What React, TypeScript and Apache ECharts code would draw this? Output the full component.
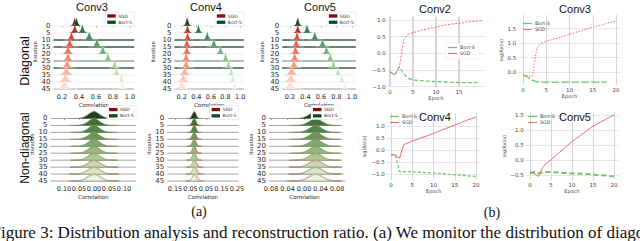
import React, { useEffect, useRef } from "react";
import * as echarts from "echarts";

// ---------- (a) ridge data ----------
const iterations = [0, 5, 10, 15, 20, 25, 30, 35, 40, 45];

// Diagonal, peak location (correlation) and spread per iteration
const diag3SgdMean = [0.35, 0.35, 0.31, 0.29, 0.27, 0.27, 0.26, 0.25, 0.24, 0.23];
const diag3SgdSpread = [0.02, 0.022, 0.022, 0.024, 0.025, 0.026, 0.028, 0.032, 0.035, 0.038];
const diag3BortMean = [0.37, 0.44, 0.52, 0.61, 0.68, 0.74, 0.82, 0.84, 0.9, 0.91];
const diag3BortSpread = [0.02, 0.022, 0.024, 0.024, 0.022, 0.02, 0.018, 0.016, 0.015, 0.014];

const diag4SgdMean = [0.27, 0.28, 0.28, 0.27, 0.27, 0.26, 0.26, 0.24, 0.22, 0.2];
const diag4SgdSpread = [0.02, 0.022, 0.022, 0.024, 0.025, 0.026, 0.028, 0.032, 0.035, 0.038];
const diag4BortMean = [0.28, 0.43, 0.55, 0.64, 0.73, 0.8, 0.84, 0.88, 0.9, 0.92];
const diag4BortSpread = [0.02, 0.022, 0.024, 0.024, 0.022, 0.02, 0.018, 0.016, 0.015, 0.014];

const diag5SgdMean = [0.3, 0.3, 0.29, 0.28, 0.27, 0.26, 0.25, 0.22, 0.21, 0.2];
const diag5SgdSpread = [0.02, 0.022, 0.022, 0.024, 0.025, 0.026, 0.028, 0.032, 0.035, 0.038];
const diag5BortMean = [0.3, 0.42, 0.52, 0.62, 0.67, 0.72, 0.76, 0.82, 0.87, 0.91];
const diag5BortSpread = [0.02, 0.022, 0.024, 0.024, 0.022, 0.02, 0.018, 0.016, 0.015, 0.014];

// Non-diagonal
const non3SgdMean = [0, 0, 0, 0, 0, 0, 0, 0, 0, 0];
const non3SgdSpread = [0.016, 0.016, 0.017, 0.017, 0.018, 0.018, 0.019, 0.02, 0.021, 0.022];
const non3BortMean = [0, 0, 0, 0, 0, 0, 0, 0, 0, 0];
const non3BortSpread = [0.02, 0.02, 0.02, 0.02, 0.02, 0.02, 0.02, 0.02, 0.02, 0.02];

const non4SgdMean = [-0.025, -0.025, -0.025, -0.025, -0.025, -0.025, -0.025, -0.022, -0.02, -0.02];
const non4SgdSpread = [0.011, 0.011, 0.011, 0.012, 0.012, 0.012, 0.013, 0.014, 0.015, 0.016];
const non4BortMean = [-0.027, -0.027, -0.027, -0.027, -0.027, -0.027, -0.027, -0.027, -0.027, -0.027];
const non4BortSpread = [0.012, 0.012, 0.012, 0.012, 0.012, 0.012, 0.012, 0.012, 0.012, 0.012];

const non5SgdMean = [0.028, 0.028, 0.028, 0.028, 0.028, 0.028, 0.028, 0.028, 0.028, 0.028];
const non5SgdSpread = [0.013, 0.013, 0.013, 0.014, 0.014, 0.014, 0.015, 0.016, 0.017, 0.018];
const non5BortMean = [0.028, 0.028, 0.028, 0.028, 0.028, 0.028, 0.028, 0.028, 0.028, 0.028];
const non5BortSpread = [0.016, 0.016, 0.016, 0.016, 0.016, 0.016, 0.016, 0.016, 0.016, 0.016];

const diagTicks = [0.2, 0.4, 0.6, 0.8, 1.0];
const non3Ticks = [-0.1, -0.05, 0, 0.05, 0.1];
const non4Ticks = [-0.15, -0.05, 0.05, 0.15, 0.25];
const non5Ticks = [-0.08, -0.04, 0, 0.04, 0.08];

// ---------- (b) log ratio data ----------
const epochs = [0, 1, 2, 3, 4, 5, 6, 7, 8, 9, 10, 11, 12, 13, 14, 15, 16, 17, 18, 19, 20];
const conv2Sgd = [-0.55, -0.65, -0.45, 0.42, 0.58, 0.62, 0.66, 0.7, 0.73, 0.76, 0.79, 0.82, 0.85, 0.87, 0.89, 0.9, 0.92, 0.94, 0.96, 0.97, 0.98];
const conv2Bort = [-0.55, -0.65, -0.4, -0.62, -0.75, -0.8, -0.81, -0.82, -0.83, -0.84, -0.85, -0.85, -0.86, -0.86, -0.87, -0.88, -0.88, -0.88, -0.88, -0.88];
const conv3Sgd = [-0.1, -0.12, -0.15, 0.85, 1.0, 1.07, 1.11, 1.15, 1.2, 1.25, 1.3, 1.35, 1.4, 1.45, 1.5, 1.55, 1.59, 1.63, 1.68, 1.72, 1.76];
const conv3Bort = [-0.1, -0.18, -0.28, -0.34, -0.35, -0.35, -0.35, -0.35, -0.35, -0.35, -0.35, -0.35, -0.35, -0.35, -0.35, -0.35, -0.35, -0.35, -0.35];
const conv4Sgd = [-0.2, -0.2, -0.35, 0.22, 0.3, 0.37, 0.43, 0.5, 0.56, 0.62, 0.69, 0.76, 0.83, 0.9, 0.97, 1.04, 1.1, 1.18, 1.25, 1.31, 1.37];
const conv4Bort = [-0.2, -0.2, -0.9, -0.9, -0.9, -0.91, -0.92, -0.93, -0.94, -0.95, -0.96, -0.97, -0.98, -1.0, -1.02, -1.03, -1.05, -1.06, -1.08, -1.09, -1.1];
const conv5Sgd = [-0.43, -0.45, -0.55, -0.25, -0.1, 0.0, 0.13, 0.25, 0.37, 0.5, 0.61, 0.72, 0.82, 0.92, 1.03, 1.13, 1.2, 1.28, 1.35, 1.43, 1.5];
const conv5Bort = [-0.43, -0.4, -0.45, -0.42, -0.4, -0.4, -0.41, -0.42, -0.43, -0.44, -0.45, -0.45, -0.46, -0.46, -0.47, -0.48, -0.5, -0.51, -0.52, -0.53, -0.55];

// ---------- styles ----------
const sgdShades = ["#7f0d0d", "#b52a22", "#d9412f", "#ea5a43", "#f26e56", "#f5826b", "#f89880", "#fbb3a0", "#fcc8ba", "#fde0d8"];
const bortShades = ["#0d4a1f", "#2a7d3f", "#3b9150", "#4fa35e", "#68b46f", "#84c482", "#9fd298", "#bbe0b2", "#d2eccb", "#e6f5e1"];
const diagBaseColors = ["#e4e4e4", "#e4e4e4", "#3b5a44", "#3b5a44", "#e4e4e4", "#8fa898", "#3b5a44", "#e4e4e4", "#e4e4e4", "#bdbdbd"];
const RED = "#f26b6b";
const GREEN = "#6cc46c";
const minus = (s: string) => s.replace("-", "\u2212");

type Ridge = {
  grid: { left: number; top: number; width: number; height: number };
  xMin: number; xMax: number; ticks: number[];
  fmt: (v: number) => string;
  sgdMean: number[]; sgdSpread: number[]; bortMean: number[]; bortSpread: number[];
  diag: boolean; iterGap: number; corrGap: number;
};

const ridges: Ridge[] = [
  { grid: { left: 53.5, top: 12, width: 80.75, height: 79.8 }, xMin: 0.1, xMax: 1.05, ticks: diagTicks, fmt: (v) => v.toFixed(1), sgdMean: diag3SgdMean, sgdSpread: diag3SgdSpread, bortMean: diag3BortMean, bortSpread: diag3BortSpread, diag: true, iterGap: 13, corrGap: 6.5 },
  { grid: { left: 174.4, top: 12, width: 69.4, height: 79.8 }, xMin: 0.1, xMax: 1.05, ticks: diagTicks, fmt: (v) => v.toFixed(1), sgdMean: diag4SgdMean, sgdSpread: diag4SgdSpread, bortMean: diag4BortMean, bortSpread: diag4BortSpread, diag: true, iterGap: 19, corrGap: 6.5 },
  { grid: { left: 282.25, top: 12, width: 73.6, height: 79.8 }, xMin: 0.1, xMax: 1.05, ticks: diagTicks, fmt: (v) => v.toFixed(1), sgdMean: diag5SgdMean, sgdSpread: diag5SgdSpread, bortMean: diag5BortMean, bortSpread: diag5BortSpread, diag: true, iterGap: 18, corrGap: 6.5 },
  { grid: { left: 50.5, top: 104.6, width: 85.5, height: 79.2 }, xMin: -0.145, xMax: 0.14, ticks: non3Ticks, fmt: (v) => Math.abs(v).toFixed(2), sgdMean: non3SgdMean, sgdSpread: non3SgdSpread, bortMean: non3BortMean, bortSpread: non3BortSpread, diag: false, iterGap: 10, corrGap: 9 },
  { grid: { left: 167.25, top: 104.6, width: 71.3, height: 79.2 }, xMin: -0.2, xMax: 0.26, ticks: non4Ticks, fmt: (v) => Math.abs(v).toFixed(2), sgdMean: non4SgdMean, sgdSpread: non4SgdSpread, bortMean: non4BortMean, bortSpread: non4BortSpread, diag: false, iterGap: 12, corrGap: 9 },
  { grid: { left: 269, top: 104.6, width: 71, height: 79.2 }, xMin: -0.085, xMax: 0.087, ticks: non5Ticks, fmt: (v) => Math.abs(v).toFixed(2), sgdMean: non5SgdMean, sgdSpread: non5SgdSpread, bortMean: non5BortMean, bortSpread: non5BortSpread, diag: false, iterGap: 6, corrGap: 9 },
];

type LinePanel = {
  grid: { left: number; top: number; width: number; height: number };
  xMin: number; xMax: number; xTicks: number[];
  yMin: number; yMax: number; yTicks: number[];
  sgd: number[]; bort: number[];
  sgdType: any; bortType: any; bortWidth: number;
  showName: boolean; vWidth: number;
};

const linePanels: LinePanel[] = [
  { grid: { left: 387.7, top: 16.7, width: 96.6, height: 70 }, xMin: -0.5, xMax: 20.5, xTicks: [0, 5, 10, 15], yMin: -1.0, yMax: 1.1, yTicks: [-1, -0.5, 0, 0.5, 1], sgd: conv2Sgd, bort: conv2Bort, sgdType: [2, 1.5], bortType: [4, 2], bortWidth: 1.2, showName: false, vWidth: 2 },
  { grid: { left: 518.35, top: 15, width: 102.3, height: 70 }, xMin: -1, xMax: 21, xTicks: [0, 5, 10, 15, 20], yMin: -0.45, yMax: 1.97, yTicks: [0, 0.5, 1.0, 1.5], sgd: conv3Sgd, bort: conv3Bort, sgdType: [1.5, 1.5], bortType: [8, 2], bortWidth: 1.3, showName: true, vWidth: 1 },
  { grid: { left: 386.75, top: 113, width: 93.5, height: 67 }, xMin: -1, xMax: 21, xTicks: [0, 5, 10, 15, 20], yMin: -1.25, yMax: 1.54, yTicks: [-1, -0.5, 0, 0.5, 1.0], sgd: conv4Sgd, bort: conv4Bort, sgdType: "solid", bortType: [3, 2], bortWidth: 1.2, showName: true, vWidth: 1 },
  { grid: { left: 525.8, top: 112, width: 92.4, height: 68 }, xMin: -1, xMax: 21, xTicks: [0, 5, 10, 15, 20], yMin: -0.667, yMax: 1.6, yTicks: [-0.5, 0, 0.5, 1.0, 1.5], sgd: conv5Sgd, bort: conv5Bort, sgdType: "solid", bortType: [5, 3], bortWidth: 2, showName: true, vWidth: 1 },
];

function makeRidgeRender(diag: boolean) {
  const H = diag ? 6 : 4.6;
  return (params: any, api: any) => {
    const iter = api.value(0);
    const mean = api.value(1);
    const spread = api.value(2);
    const kind = api.value(3);
    const row = api.value(4);
    const cs = params.coordSys;
    const children: any[] = [];
    if (kind === 0) {
      const yb = api.coord([0, iter])[1];
      children.push({
        type: "line",
        shape: { x1: cs.x, y1: yb, x2: cs.x + cs.width, y2: yb },
        style: { stroke: diag ? diagBaseColors[row] : "#8d8d8d", lineWidth: diag ? (diagBaseColors[row] === "#e4e4e4" ? 0.6 : 1.3) : 0.8 },
      });
    }
    const pts: number[][] = [];
    const N = 60;
    const h = kind === 0 && !diag ? H * 1.12 : H;
    for (let k = 0; k <= N; k++) {
      const z = -4 + (8 * k) / N;
      const f = diag ? Math.exp(-Math.pow(Math.abs(z), 1.3)) : Math.exp(-0.5 * z * z);
      pts.push(api.coord([mean + z * spread, iter - h * f]));
    }
    const fill = kind === 0 ? sgdShades[row] : bortShades[row];
    const stroke = kind === 0 ? (diag ? "#ffffff" : "#e07a6a") : diag ? "#ffffff" : "#5f8f5f";
    children.push({
      type: "polygon",
      shape: { points: pts },
      style: {
        fill,
        stroke,
        lineWidth: diag ? 0.4 : 0.5,
        lineDash: diag ? [1, 1] : null,
        opacity: !diag && kind === 1 ? 0.88 : 1,
      },
    });
    return { type: "group", children };
  };
}

function buildOption() {
  const grid: any[] = [];
  const xAxis: any[] = [];
  const yAxis: any[] = [];
  const series: any[] = [];
  const graphic: any[] = [];
  const small = { fontFamily: "DejaVu Sans", color: "#262626" };

  ridges.forEach((p, gi) => {
    grid.push({ ...p.grid });
    xAxis.push({
      type: "value", gridIndex: gi, min: p.xMin, max: p.xMax,
      axisLine: { show: false },
      axisTick: { show: true, length: 1.5, customValues: p.ticks, lineStyle: { color: "#444", width: 0.5 } },
      axisLabel: { customValues: p.ticks, formatter: (v: number) => p.fmt(v), fontSize: 6.5, margin: 2, ...small },
      splitLine: { show: false },
      name: "Correlation", nameLocation: "middle", nameGap: p.corrGap,
      nameTextStyle: { fontSize: 5.5, ...small },
    });
    yAxis.push({
      type: "value", gridIndex: gi, inverse: true, min: -10, max: 47,
      axisLine: { show: false }, axisTick: { show: false, customValues: iterations },
      axisLabel: { customValues: iterations, fontSize: 7, margin: 3, ...small },
      splitLine: { show: false },
      name: "Iteration", nameLocation: "middle", nameGap: p.iterGap, nameRotate: 90,
      nameTextStyle: { fontSize: 5, ...small },
    });
    const data: any[] = [];
    iterations.forEach((it, r) => {
      data.push([it, p.sgdMean[r], p.sgdSpread[r], 0, r]);
      data.push([it, p.bortMean[r], p.bortSpread[r], 1, r]);
    });
    series.push({
      type: "custom", name: "ridge" + gi, coordinateSystem: "cartesian2d",
      xAxisIndex: gi, yAxisIndex: gi, encode: { x: 1, y: 0 }, clip: false, silent: true,
      renderItem: makeRidgeRender(p.diag), data,
    });
    // legend box
    const lx = p.grid.left + p.grid.width - 29;
    const ly = p.grid.top + (p.diag ? 0 : 1);
    graphic.push(
      { type: "rect", shape: { x: lx, y: ly, width: 29, height: 14 }, style: { fill: "#fff", stroke: "#dcdcdc", lineWidth: 0.5 }, z: 10 },
      { type: "rect", shape: { x: lx + 2, y: ly + 2.3, width: 8.5, height: 3.3 }, style: { fill: "#7f0d0d" }, z: 11 },
      { type: "rect", shape: { x: lx + 2, y: ly + 8.6, width: 8.5, height: 3.3 }, style: { fill: "#0d4a1f" }, z: 11 },
      { type: "text", x: lx + 13, y: ly + 4, style: { text: "SGD", fontSize: 4.5, fill: "#333", fontFamily: "DejaVu Sans", verticalAlign: "middle" }, z: 11 },
      { type: "text", x: lx + 13, y: ly + 10.3, style: { text: "Bort-S", fontSize: 4.5, fill: "#333", fontFamily: "DejaVu Sans", verticalAlign: "middle" }, z: 11 }
    );
  });

  const base = ridges.length;
  linePanels.forEach((p, i) => {
    const gi = base + i;
    grid.push({ ...p.grid });
    xAxis.push({
      type: "value", gridIndex: gi, min: p.xMin, max: p.xMax,
      axisLine: { show: false }, axisTick: { show: false, customValues: p.xTicks },
      axisLabel: { customValues: p.xTicks, fontSize: 5.5, margin: 2, ...small, color: "#444" },
      splitLine: { show: true, lineStyle: { color: "#d6d6d6", width: p.vWidth } },
      name: "Epoch", nameLocation: "middle", nameGap: 8, nameTextStyle: { fontSize: 5, ...small, color: "#444" },
    });
    yAxis.push({
      type: "value", gridIndex: gi, min: p.yMin, max: p.yMax,
      axisLine: { show: false }, axisTick: { show: false, customValues: p.yTicks },
      axisLabel: { customValues: p.yTicks, fontSize: 5.5, margin: 2, ...small, color: "#444", formatter: (v: number) => minus(v.toFixed(1)) },
      splitLine: { show: true, lineStyle: { color: "#e0e0e0", width: 0.8 } },
      name: p.showName ? "log(Ratio)" : "", nameLocation: "middle", nameGap: 13, nameRotate: 90,
      nameTextStyle: { fontSize: 4.5, ...small, color: "#444" },
    });
    series.push({
      type: "line", name: "SGD", xAxisIndex: gi, yAxisIndex: gi, silent: true, showSymbol: false, symbol: "none",
      data: p.sgd.map((v, k) => [epochs[k], v]),
      lineStyle: { color: RED, width: 1, type: p.sgdType }, z: 3,
    });
    series.push({
      type: "line", name: "Bort-S", xAxisIndex: gi, yAxisIndex: gi, silent: true, showSymbol: false, symbol: "none",
      data: p.bort.map((v, k) => [epochs[k], v]),
      lineStyle: { color: GREEN, width: p.bortWidth, type: p.bortType }, z: 2,
    });
  });

  // line legends
  const lineLegends = [
    { x: 446, y: 43, w: 33, box: true },
    { x: 521, y: 19, w: 30, box: false },
    { x: 388, y: 112, w: 30, box: false },
    { x: 526, y: 112, w: 30, box: false },
  ];
  lineLegends.forEach((l) => {
    if (l.box) graphic.push({ type: "rect", shape: { x: l.x, y: l.y, width: l.w, height: 16 }, style: { fill: "#fff", stroke: "#e2e2e2", lineWidth: 0.5 }, z: 10 });
    graphic.push(
      { type: "line", shape: { x1: l.x + 2, y1: l.y + 4.5, x2: l.x + 11, y2: l.y + 4.5 }, style: { stroke: GREEN, lineWidth: 1.2 }, z: 11 },
      { type: "line", shape: { x1: l.x + 2, y1: l.y + 10.5, x2: l.x + 11, y2: l.y + 10.5 }, style: { stroke: RED, lineWidth: 1 }, z: 11 },
      { type: "text", x: l.x + 14, y: l.y + 4.5, style: { text: "Bort-S", fontSize: 4.8, fill: "#444", fontFamily: "DejaVu Sans", verticalAlign: "middle" }, z: 11 },
      { type: "text", x: l.x + 14, y: l.y + 10.5, style: { text: "SGD", fontSize: 4.8, fill: "#444", fontFamily: "DejaVu Sans", verticalAlign: "middle" }, z: 11 }
    );
  });

  const title = (text: string, x: number, y: number) => ({
    type: "text", x, y, style: { text, fontSize: 11, fill: "#111", fontFamily: "Liberation Sans", align: "center", verticalAlign: "middle" }, z: 12,
  });
  graphic.push(
    title("Conv3", 92, 7), title("Conv4", 206, 7), title("Conv5", 320, 7),
    title("Conv2", 435, 9), title("Conv3", 575, 9), title("Conv4", 435, 117), title("Conv5", 575, 117),
    { type: "text", x: 25, y: 61, rotation: Math.PI / 2, style: { text: "Diagonal", fontSize: 12.5, fill: "#111", fontFamily: "Liberation Sans", align: "center", verticalAlign: "middle" } },
    { type: "text", x: 25, y: 148, rotation: Math.PI / 2, style: { text: "Non-diagonal", fontSize: 12, fill: "#111", fontFamily: "Liberation Sans", align: "center", verticalAlign: "middle" } },
    { type: "text", x: 199, y: 211, style: { text: "(a)", fontSize: 14, fill: "#111", fontFamily: "Liberation Serif", align: "center", verticalAlign: "middle" } },
    { type: "text", x: 492, y: 212, style: { text: "(b)", fontSize: 14, fill: "#111", fontFamily: "Liberation Serif", align: "center", verticalAlign: "middle" } },
    { type: "text", x: -8.5, y: 232.5, style: { text: "Figure 3: Distribution analysis and reconstruction ratio. (a) We monitor the distribution of diagonal", fontSize: 17, fill: "#111", fontFamily: "Liberation Serif", align: "left", verticalAlign: "middle" } }
  );

  return {
    animation: false,
    backgroundColor: "#ffffff",
    textStyle: { fontFamily: "DejaVu Sans" },
    grid, xAxis, yAxis, series, graphic,
  };
}

export default function App() {
  const ref = useRef<HTMLDivElement>(null);
  useEffect(() => {
    const chart = echarts.init(ref.current!, null, { renderer: "svg" });
    chart.setOption(buildOption() as any);
    return () => chart.dispose();
  }, []);
  return (
    <div
      ref={ref}
      style={{ position: "absolute", left: 0, top: 0, width: 640, height: 241, background: "#fff" }}
    />
  );
}
